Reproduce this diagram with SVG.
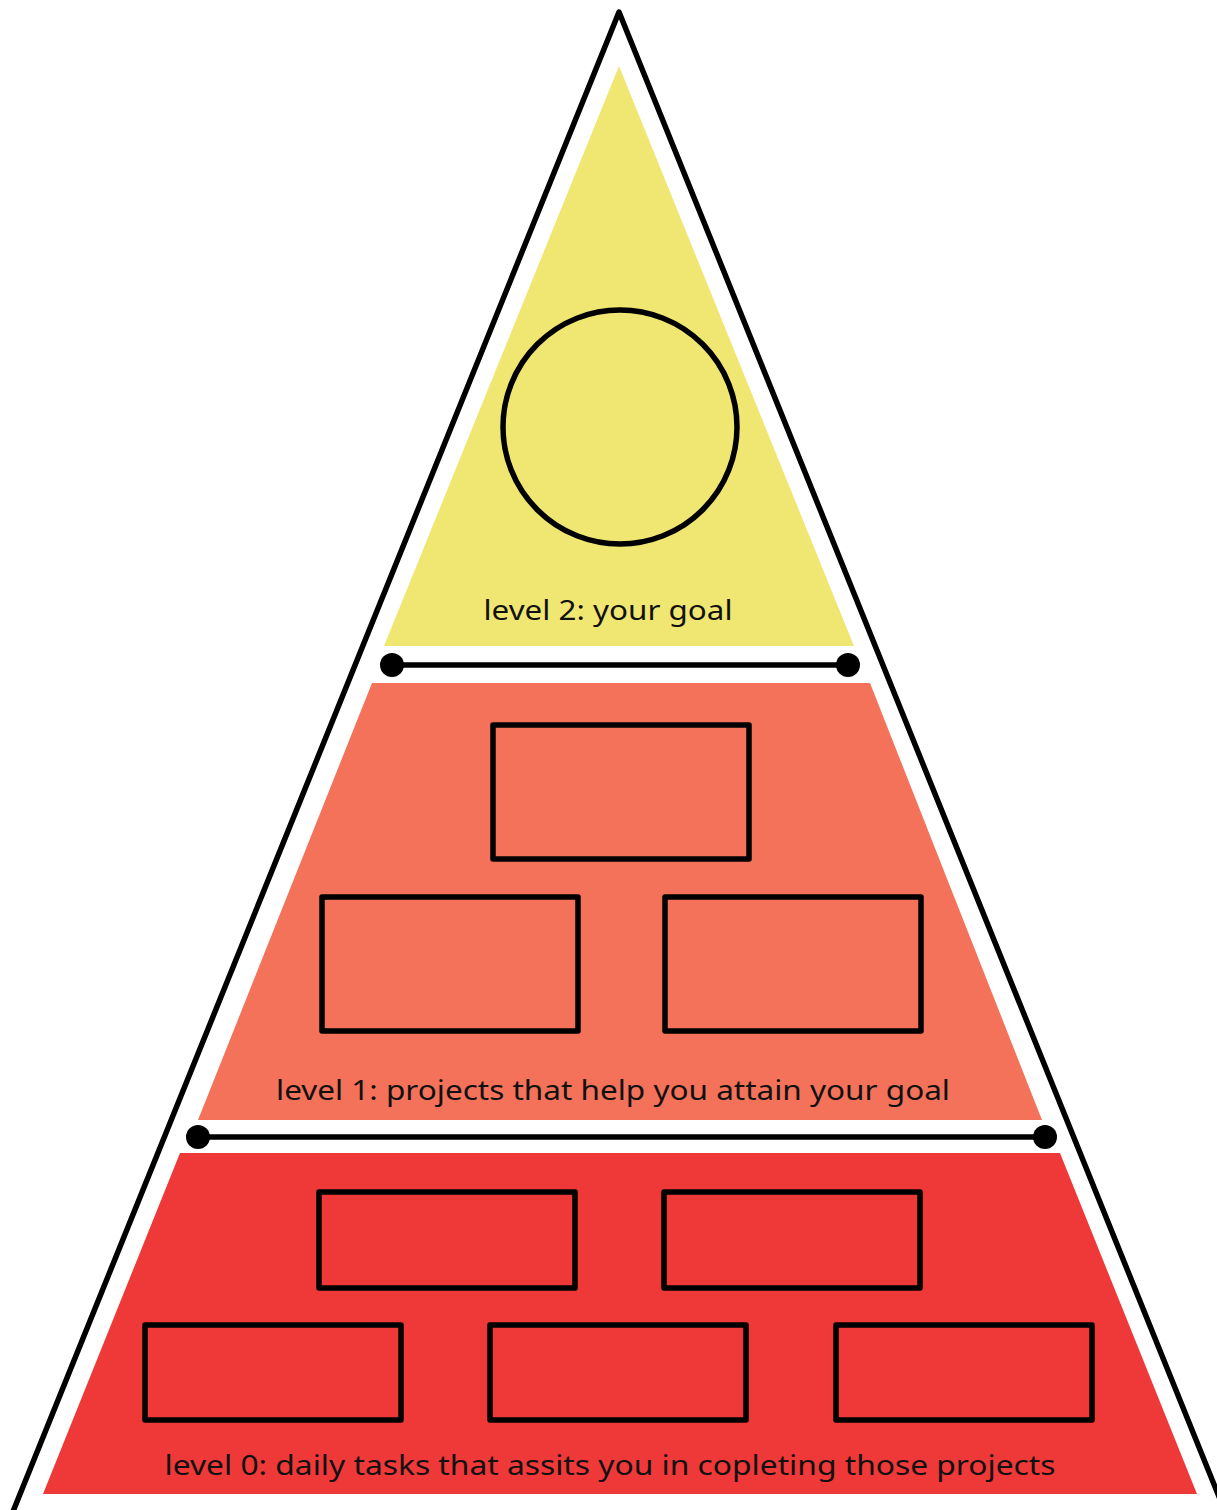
<svg xmlns="http://www.w3.org/2000/svg" width="1217" height="1510" viewBox="0 0 1217 1510">
<style>
.box{fill:none;stroke:#000;stroke-width:5.5;stroke-linejoin:round}
.lbl{font-family:"Noto Sans","Liberation Sans",sans-serif;font-size:28px;fill:#111}
.conn{stroke:#000;stroke-width:5.5}
</style>
<rect width="1217" height="1510" fill="#fff"/>
<polyline points="12,1514 619,12 1226,1514" fill="none" stroke="#000" stroke-width="5.5" stroke-linejoin="round"/>
<g id="level2">
<polygon points="619,66 854,646 384,646" fill="#F0E672"/>
<circle cx="620" cy="427" r="117" class="box"/>
<text x="608" y="620" text-anchor="middle" class="lbl" textLength="249" lengthAdjust="spacingAndGlyphs">level 2: your goal</text>
</g>
<g id="level1">
<polygon points="372,683 870,683 1042,1120 198,1120" fill="#F37259"/>
<rect x="493" y="725" width="256" height="134" class="box"/>
<rect x="322" y="897" width="256" height="134" class="box"/>
<rect x="665" y="897" width="256" height="134" class="box"/>
<text x="613" y="1100" text-anchor="middle" class="lbl" textLength="674" lengthAdjust="spacingAndGlyphs">level 1: projects that help you attain your goal</text>
</g>
<g id="level0">
<polygon points="180,1153 1060,1153 1197,1494 43,1494" fill="#EF3838"/>
<rect x="319" y="1192" width="256" height="96" class="box"/>
<rect x="664" y="1192" width="256" height="96" class="box"/>
<rect x="145" y="1325" width="256" height="95" class="box"/>
<rect x="490" y="1325" width="256" height="95" class="box"/>
<rect x="836" y="1325" width="256" height="95" class="box"/>
<text x="610" y="1475" text-anchor="middle" class="lbl" textLength="891" lengthAdjust="spacingAndGlyphs">level 0: daily tasks that assits you in copleting those projects</text>
</g>
<g id="connectors">
<line x1="392" y1="665" x2="848" y2="665" class="conn"/>
<circle cx="392" cy="665" r="12"/>
<circle cx="848" cy="665" r="12"/>
<line x1="198" y1="1137" x2="1045" y2="1137" class="conn"/>
<circle cx="198" cy="1137" r="12"/>
<circle cx="1045" cy="1137" r="12"/>
</g>
</svg>
